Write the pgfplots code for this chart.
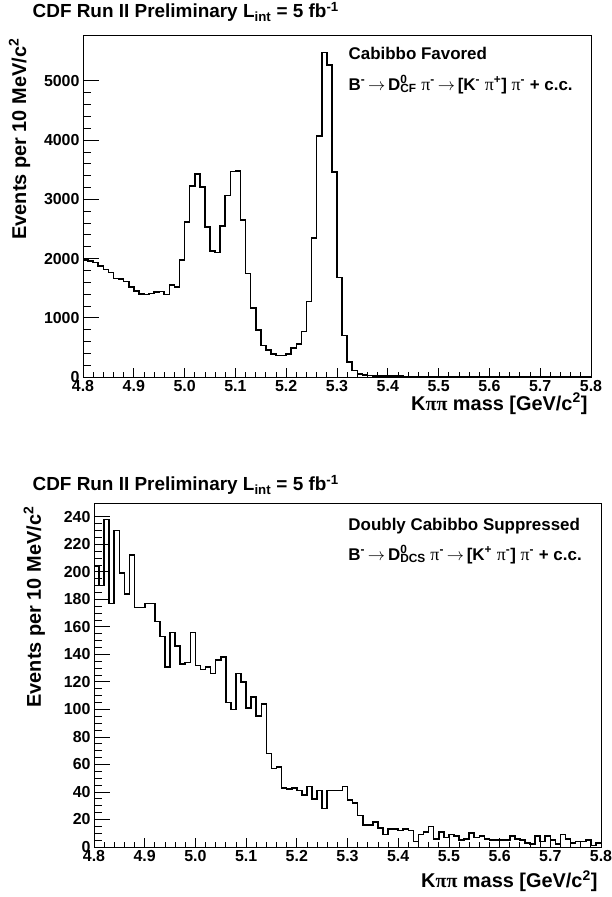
\documentclass[border=0pt]{standalone}
\usepackage{fontspec}
\setmainfont{Liberation Sans}
\newfontfamily\symf{Liberation Serif}
\usepackage{pgfplots}
\usepackage{pgfplotstable}
\pgfplotsset{compat=1.18}

\newcommand\tickf{\fontsize{16}{18}\selectfont\bfseries}
\newcommand\labf{\fontsize{20}{22}\selectfont\bfseries}
\newcommand\titf{\fontsize{19}{21}\selectfont\bfseries}
\newcommand\annf{\fontsize{17}{19}\selectfont\bfseries}
\newcommand\supsub[2]{\rlap{\textsuperscript{#1}}\textsubscript{#2}}
\newcommand\arr{\,$\rightarrow$\,}
\newcommand\ppi{{\symf\mdseries\fontsize{18}{19}\selectfont π}}

% Cabibbo favored, 10 MeV bins (left edge, events)
\pgfplotstableread{
m n
4.80 1972
4.81 1960
4.82 1932
4.83 1877
4.84 1815
4.85 1765
4.86 1664
4.87 1653
4.88 1613
4.89 1524
4.90 1457
4.91 1400
4.92 1390
4.93 1412
4.94 1440
4.95 1445
4.96 1390
4.97 1557
4.98 1524
4.99 1972
5.00 2622
5.01 3221
5.02 3428
5.03 3210
5.04 2532
5.05 2129
5.06 2105
5.07 2549
5.08 3064
5.09 3473
5.10 3480
5.11 2650
5.12 1748
5.13 1165
5.14 795
5.15 532
5.16 459
5.17 392
5.18 364
5.19 364
5.20 392
5.21 487
5.22 560
5.23 767
5.24 1277
5.25 2342
5.26 4073
5.27 5479
5.28 5266
5.29 3457
5.30 1681
5.31 700
5.32 252
5.33 112
5.34 55
5.35 30
5.36 25
5.37 20
5.38 18
5.39 15
5.40 14
5.41 12
5.42 12
5.43 10
5.44 10
5.45 9
5.46 8
5.47 8
5.48 7
5.49 7
5.50 6
5.51 6
5.52 6
5.53 5
5.54 5
5.55 5
5.56 5
5.57 4
5.58 4
5.59 4
5.60 4
5.61 4
5.62 3
5.63 3
5.64 3
5.65 3
5.66 3
5.67 3
5.68 3
5.69 2
5.70 2
5.71 2
5.72 2
5.73 2
5.74 2
5.75 2
5.76 2
5.77 2
5.78 2
5.79 2
5.80 2
}\cftab

% doubly Cabibbo suppressed
\pgfplotstableread{
m n
4.80 204
4.81 190
4.82 238
4.83 177
4.84 230
4.85 199
4.86 184
4.87 212
4.88 174
4.89 174
4.90 177
4.91 177
4.92 164
4.93 153
4.94 131
4.95 156
4.96 146
4.97 133
4.98 134
4.99 156
5.00 132
5.01 129
5.02 131
5.03 126
5.04 136
5.05 138
5.06 105
5.07 100
5.08 126
5.09 120
5.10 101
5.11 109
5.12 95
5.13 104
5.14 68
5.15 57
5.16 58
5.17 43
5.18 42
5.19 43
5.20 41
5.21 38
5.22 44
5.23 35
5.24 41
5.25 28
5.26 41
5.27 41
5.28 41
5.29 44
5.30 34
5.31 32
5.32 23
5.33 16
5.34 16
5.35 18
5.36 14
5.37 9
5.38 13
5.39 13
5.40 12
5.41 13
5.42 12
5.43 4
5.44 9
5.45 11
5.46 15
5.47 6
5.48 11
5.49 7
5.50 9
5.51 8
5.52 5
5.53 6
5.54 10
5.55 7
5.56 8
5.57 6
5.58 5
5.59 5
5.60 5
5.61 5
5.62 8
5.63 6
5.64 5
5.65 3
5.66 2
5.67 8
5.68 4
5.69 8
5.70 5
5.71 2
5.72 9
5.73 6
5.74 3
5.75 4
5.76 4
5.77 5
5.78 1
5.79 3
5.80 3
}\dcstab

\pgfplotsset{
  cdfbase/.style={
    scale only axis, anchor=south west,
    xmin=4.8, xmax=5.8, ymin=0,
    tick align=inside, tick pos=left,
    every tick/.style={black, line width=0.8bp},
    tick label style={font=\tickf},
    /pgf/number format/assume math mode=true,
    clip mode=individual,
  },
  frameaxis/.style={
    cdfbase,
    axis line style={line width=0.8bp},
    xtick={4.8,4.9,5.0,5.1,5.2,5.3,5.4,5.5,5.6,5.7,5.8},
    minor x tick num=4,
    ytick=\empty,
    major tick length=9bp, minor tick length=5bp,
    xticklabel style={/pgf/number format/.cd, fixed, fixed zerofill, precision=1},
    xlabel={K{\symf ππ} mass [GeV/c\textsuperscript{2}]},
    ylabel={Events per 10 MeV/c\textsuperscript{2}},
  },
  tickaxis/.style={
    cdfbase,
    axis line style={draw=none},
    xtick=\empty,
    major tick length=16bp, minor tick length=8bp,
    yticklabel style={/pgf/number format/1000 sep={}},
    scaled y ticks=false,
  },
  hist/.style={const plot mark left, black, line width=1.6bp},
}

\begin{document}
\begin{tikzpicture}
\path[use as bounding box] (0,0) rectangle (612bp,897bp);

% ---- top panel: Cabibbo favored
\begin{axis}[frameaxis, at={(83bp,520bp)}, width=508bp, height=342bp, ymax=5775,
  xlabel style={at={(axis description cs:1,-0.097)}, anchor=base east, font=\labf},
  ylabel style={at={(axis description cs:-0.112,1)}, anchor=base east, font=\labf}]
\addplot[hist] table[x=m, y=n] {\cftab};
\node[anchor=base west, font=\titf] at (rel axis cs:-0.106,1.05)
  {CDF Run II Preliminary L\textsubscript{int} = 5 fb\textsuperscript{-1}};
\node[anchor=base west, font=\annf] at (rel axis cs:0.516,0.927) {Cabibbo Favored};
\node[anchor=base west, font=\annf] at (rel axis cs:0.516,0.839)
  {B\textsuperscript{-}\arr D\supsub{0}{CF} \ppi\textsuperscript{-}\arr [K\textsuperscript{-} \ppi\textsuperscript{+}] \ppi\textsuperscript{-} + c.c.};
\end{axis}
\begin{axis}[tickaxis, at={(83bp,520bp)}, width=508bp, height=342bp, ymax=5775,
  ytick={0,1000,2000,3000,4000,5000}, minor y tick num=4]
\end{axis}

% ---- bottom panel: doubly Cabibbo suppressed
\begin{axis}[frameaxis, at={(94bp,50bp)}, width=507bp, height=344bp, ymax=250,
  xlabel style={at={(axis description cs:1,-0.119)}, anchor=base east, font=\labf},
  ylabel style={at={(axis description cs:-0.105,1)}, anchor=base east, font=\labf}]
\addplot[hist] table[x=m, y=n] {\dcstab};
\node[anchor=base west, font=\titf] at (rel axis cs:-0.128,1.036)
  {CDF Run II Preliminary L\textsubscript{int} = 5 fb\textsuperscript{-1}};
\node[anchor=base west, font=\annf] at (rel axis cs:0.495,0.9215) {Doubly Cabibbo Suppressed};
\node[anchor=base west, font=\annf] at (rel axis cs:0.495,0.834)
  {B\textsuperscript{-}\arr D\supsub{0}{DCS} \ppi\textsuperscript{-}\arr [K\textsuperscript{+} \ppi\textsuperscript{-}] \ppi\textsuperscript{-} + c.c.};
\end{axis}
\begin{axis}[tickaxis, at={(94bp,50bp)}, width=507bp, height=344bp, ymax=250,
  ytick={0,20,40,60,80,100,120,140,160,180,200,220,240}, minor y tick num=3]
\end{axis}
\end{tikzpicture}
\end{document}
